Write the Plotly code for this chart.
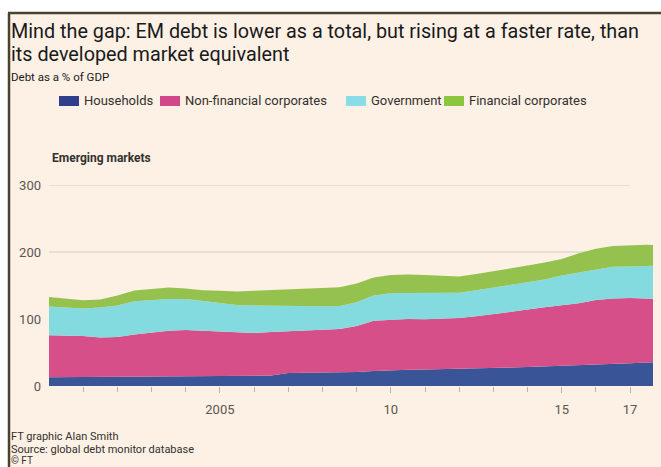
import plotly.graph_objects as go

# Half-yearly observations, debt as % of GDP (emerging markets)
years = [2000.0, 2000.5, 2001.0, 2001.5, 2002.0, 2002.5, 2003.0, 2003.5, 2004.0, 2004.5,
         2005.0, 2005.5, 2006.0, 2006.5, 2007.0, 2007.5, 2008.0, 2008.5, 2009.0, 2009.5,
         2010.0, 2010.5, 2011.0, 2011.5, 2012.0, 2012.5, 2013.0, 2013.5, 2014.0, 2014.5,
         2015.0, 2015.5, 2016.0, 2016.5, 2017.0, 2017.5, 2017.67]

households = [13.1, 13.3, 13.5, 13.8, 14.2, 14.5, 14.6, 14.6, 14.7, 14.8,
              15.0, 15.2, 15.4, 15.6, 19.5, 19.8, 20.0, 20.4, 20.8, 22.3,
              23.5, 24.3, 24.6, 25.0, 25.6, 26.3, 27.0, 27.7, 28.2, 29.0,
              30.0, 31.0, 32.0, 33.0, 34.0, 35.0, 35.5]

non_financial = [62.5, 61.9, 61.3, 58.7, 58.8, 62.5, 65.4, 67.9, 68.8, 67.7,
                 66.0, 64.8, 63.6, 64.9, 62.5, 63.2, 64.0, 64.6, 68.7, 75.2,
                 75.5, 75.7, 74.9, 75.0, 75.9, 77.7, 80.0, 82.8, 85.8, 88.5,
                 90.5, 92.5, 96.5, 97.5, 97.2, 96.0, 94.7]

government = [43.2, 42.3, 40.7, 44.5, 47.0, 49.5, 48.5, 47.5, 46.5, 44.5,
              42.5, 41.0, 41.0, 39.0, 37.0, 36.0, 35.0, 34.5, 35.5, 37.5,
              39.5, 38.7, 39.2, 38.7, 37.5, 39.0, 40.0, 40.0, 40.5, 41.5,
              44.5, 46.0, 45.5, 47.5, 47.3, 48.0, 49.1]

financial = [13.9, 13.0, 12.5, 12.0, 15.0, 16.0, 16.0, 17.0, 15.5, 16.0,
             18.5, 20.0, 22.0, 23.5, 25.0, 27.0, 28.0, 28.0, 28.0, 27.0,
             27.0, 27.8, 26.8, 25.8, 24.5, 24.0, 24.0, 24.5, 25.5, 25.5,
             24.5, 28.5, 31.0, 31.0, 32.0, 32.0, 31.2]

series_names = ["Households", "Non-financial corporates", "Government", "Financial corporates"]
series_values = [households, non_financial, government, financial]
series_colors = ["#3a5597", "#d64f88", "#84dbdf", "#95c24f"]
legend_colors = ["#2f3f8c", "#d2468a", "#8adce6", "#8cc63f"]

tick_vals = [2005, 2010, 2015, 2017]
tick_text = ["2005", "10", "15", "17"]
minor_ticks = list(range(2001, 2018))
grid_vals = [100, 200, 300]

W, H = 661, 467
M_L, M_R, M_T, M_B = 49, 8, 185, 81
PW, PH = W - M_L - M_R, H - M_T - M_B

BG = "#fdf0e5"
TEXT = "#1a1a1a"
GREY = "#5c5650"
FONT = "Roboto, Lato, sans-serif"


def px(xp):
    return (xp - M_L) / PW


def py(yp):
    return (H - M_B - yp) / PH


fig = go.Figure()
for name, vals, col in zip(series_names, series_values, series_colors):
    fig.add_trace(go.Scatter(
        x=years, y=vals, name=name, mode="lines", stackgroup="debt",
        line=dict(width=0, color=col), fillcolor=col, showlegend=False,
        hoverinfo="skip",
    ))

shapes = [
    # page background and frame
    dict(type="rect", xref="paper", yref="paper", x0=px(8), x1=px(670), y0=py(13), y1=py(480),
         fillcolor=BG, line=dict(width=0), layer="below"),
    dict(type="line", xref="paper", yref="paper", x0=px(8), x1=px(670), y0=py(13), y1=py(13),
         line=dict(color="#48432f", width=2.5), layer="below"),
    dict(type="line", xref="paper", yref="paper", x0=px(9), x1=px(9), y0=py(13), y1=py(480),
         line=dict(color="#48432f", width=2.5), layer="below"),
]
for g in grid_vals:
    shapes.append(dict(type="line", xref="x", yref="y", x0=years[0], x1=2017, y0=g, y1=g,
                       line=dict(color="#d6cbc1", width=1), layer="below"))

annotations = [
    dict(text="Mind the gap: EM debt is lower as a total, but rising at a faster rate, than",
         x=px(9), y=py(31), xanchor="left", yanchor="middle",
         font=dict(family=FONT, size=19.8, color=TEXT)),
    dict(text="its developed market equivalent",
         x=px(9), y=py(54), xanchor="left", yanchor="middle",
         font=dict(family=FONT, size=19.8, color=TEXT)),
    dict(text="Debt as a % of GDP",
         x=px(9), y=py(77), xanchor="left", yanchor="middle",
         font=dict(family=FONT, size=11.5, color=TEXT)),
    dict(text="<b>Emerging markets</b>",
         x=px(50), y=py(158), xanchor="left", yanchor="middle",
         font=dict(family=FONT, size=12, color="#33302e")),
    dict(text="FT graphic Alan Smith",
         x=px(9), y=py(436), xanchor="left", yanchor="middle",
         font=dict(family=FONT, size=11, color="#33302e")),
    dict(text="Source: global debt monitor database",
         x=px(9), y=py(449), xanchor="left", yanchor="middle",
         font=dict(family=FONT, size=11, color="#33302e")),
    dict(text="© FT",
         x=px(9), y=py(460), xanchor="left", yanchor="middle",
         font=dict(family=FONT, size=10, color="#33302e")),
]

# legend: swatch + label
legend_x = [59, 160, 346, 444]
for name, col, lx in zip(series_names, legend_colors, legend_x):
    shapes.append(dict(type="rect", xref="paper", yref="paper",
                       x0=px(lx), x1=px(lx + 20), y0=py(96), y1=py(106),
                       fillcolor=col, line=dict(width=0)))
    annotations.append(dict(text=name, x=px(lx + 23), y=py(101), xanchor="left", yanchor="middle",
                            font=dict(family=FONT, size=13, color="#33302e")))

for a in annotations:
    a.update(xref="paper", yref="paper", showarrow=False)

fig.update_layout(
    width=W, height=H,
    margin=dict(l=M_L, r=M_R, t=M_T, b=M_B),
    paper_bgcolor="white", plot_bgcolor="rgba(0,0,0,0)",
    shapes=shapes, annotations=annotations, showlegend=False,
    xaxis=dict(range=[years[0], years[-1]], tickvals=tick_vals, ticktext=tick_text,
               ticks="outside", ticklen=6, tickcolor="#bfb3a8", tickwidth=1,
               minor=dict(tickvals=minor_ticks, ticks="outside", ticklen=5,
                          tickcolor="#bfb3a8", tickwidth=1),
               showgrid=False, zeroline=False, showline=False,
               tickfont=dict(family=FONT, size=13, color=GREY), ticklabelstandoff=5),
    yaxis=dict(range=[0, 300], tickvals=[0, 100, 200, 300], showgrid=False, zeroline=False,
               showline=False, ticks="", ticklabelstandoff=7,
               tickfont=dict(family=FONT, size=13, color=GREY)),
)

fig.write_html("out.html")
